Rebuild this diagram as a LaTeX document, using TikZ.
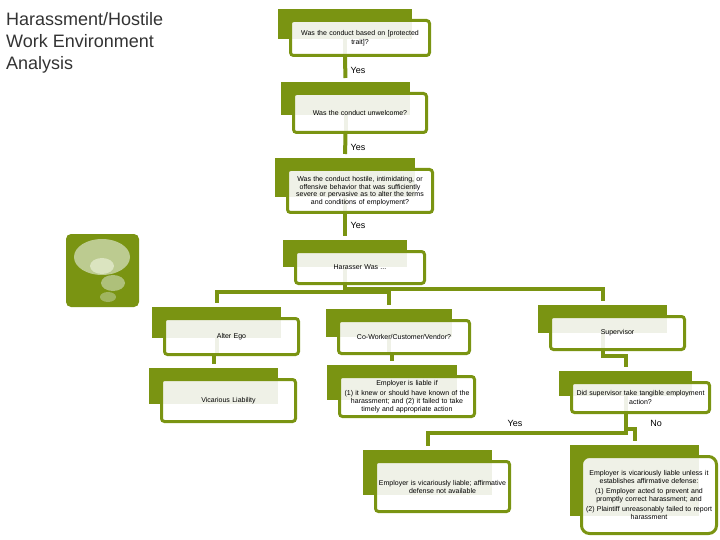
\documentclass[tikz,border=0pt]{standalone}
\usepackage{fontspec}
\setmainfont{Liberation Sans}
\usetikzlibrary{backgrounds,calc}
\definecolor{olive}{HTML}{7A9412}
\definecolor{palegr}{HTML}{EFF1E7}
\definecolor{bubblea}{HTML}{BCCB90}
\definecolor{bubbleb}{HTML}{DBE4C0}
\definecolor{bubblec}{HTML}{AEC07A}
\definecolor{bubbled}{HTML}{A0B560}
\tikzset{
  back/.style={fill=olive,draw=none,inner sep=0pt,outer sep=0pt},
  flow/.style={draw=olive,line width=3pt,inner sep=0pt,outer sep=0pt,align=center,font=\fontsize{7}{8}\selectfont},
  link/.style={draw=olive,line width=4pt,shorten >=4pt},
  stubline/.style={draw=palegr,line width=4pt},
  lab/.style={font=\fontsize{9}{11}\selectfont,inner sep=0pt},
  title/.style={font=\fontsize{18}{22}\selectfont,align=left,anchor=north west,inner sep=0pt,text=black!80}
}
\def\boxrad{3}
% name, border box x1 y1 x2 y2, back box x1 y1 x2 y2; followed by {text};
\newcommand\flowbox[9]{%
  \begin{pgfonlayer}{background}
    \pgfmathsetmacro\bw{#8-#6}\pgfmathsetmacro\bh{#9-#7}
    \node[back,minimum width=\bw pt,minimum height=\bh pt,anchor=north west] (#1b) at (#6,#7) {};
    \fill[white,rounded corners=\boxrad pt] (#2+1.5,#3+1.5) rectangle (#4-1.5,#5-1.5);
    \fill[palegr] (#2+3,#3+3) rectangle (#8,#9);
  \end{pgfonlayer}
  \pgfmathsetmacro\fw{#4-#2-3}\pgfmathsetmacro\fh{#5-#3-3}
  \pgfmathsetmacro\fx{(#2+#4)/2}\pgfmathsetmacro\fy{(#3+#5)/2}
  \pgfmathsetmacro\ft{#4-#2-6}
  \node[flow,rounded corners=\boxrad pt,minimum width=\fw pt,minimum height=\fh pt,text width=\ft pt] (#1) at (\fx,\fy)
}
\newcommand\stubof[1]{%
  \begin{pgfonlayer}{background}
    \draw[stubline] (#1b.south) -- (#1.south -| #1b.south);
  \end{pgfonlayer}
}
\begin{document}
\begin{tikzpicture}[x=1pt,y=-1pt]
\useasboundingbox (0,0) rectangle (720,540);
\node[title] (heading) at (6,12) {Harassment/Hostile\\Work Environment\\Analysis};

% icon
\fill[olive,rounded corners=5pt] (66,234) rectangle (139,307);
\fill[bubblea] (102,257) ellipse [x radius=28,y radius=18];
\fill[bubbleb] (102,266) ellipse [x radius=12,y radius=8];
\fill[bubblec] (113,283) ellipse [x radius=12,y radius=8];
\fill[bubbled] (108,297) ellipse [x radius=8,y radius=5];

\flowbox{q1}{289}{19}{431}{57}{278}{9}{412}{39}{Was the conduct based on [protected\\[1pt]trait]?};
\flowbox{q2}{292}{92}{428}{134}{281}{82}{410}{115}{Was the conduct unwelcome?};
\flowbox{q3}{286}{168}{434}{214}{275}{158}{415}{197}{Was the conduct hostile, intimidating, or\\[-0.5pt]offensive behavior that was sufficiently\\[-0.5pt]severe or pervasive as to alter the terms\\[-0.5pt]and conditions of employment?};
\flowbox{q4}{294}{250}{426}{285}{283}{240}{407}{267}{Harasser Was ...};
\flowbox{alter}{163}{317}{300}{356}{152}{307}{281}{338}{Alter Ego};
\flowbox{vic}{160}{378}{297}{423}{149}{368}{278}{404}{Vicarious Liability};
\flowbox{cow}{337}{319}{471}{355}{326}{309}{452}{337}{Co-Worker/Customer/Vendor?};
\flowbox{emp}{338}{375}{476}{418}{327}{365}{457}{400}{Employer is liable if\\[2pt](1) it knew or should have known of the\\harassment; and (2) it failed to take\\timely and appropriate action};
\flowbox{sup}{549}{315}{686}{351}{538}{305}{667}{333}{Supervisor};
\flowbox{did}{570}{381}{711}{414}{559}{371}{692}{396}{Did supervisor take tangible employment\\[0.5pt]action?};
\flowbox{lia}{374}{460}{511}{513}{363}{450}{492}{495}{Employer is vicariously liable; affirmative\\defense not available};
\def\boxrad{8}
\flowbox{unl}{580}{455}{718}{535}{570}{445}{699}{516}{Employer is vicariously liable unless it\\establishes affirmative defense:\\[2pt](1) Employer acted to prevent and\\promptly correct harassment; and\\[2pt](2) Plaintiff unreasonably failed to report\\harassment};

\stubof{q1}\stubof{q2}\stubof{q3}\stubof{q4}\stubof{alter}\stubof{cow}\stubof{sup}\stubof{did}

\draw[link] (q1.south -| q1b.south) -- (q2b.north);
\draw[link] (q2.south -| q2b.south) -- (q3b.north);
\draw[link] (q3.south -| q3b.south) -- (q4b.north);
\draw[link] (q4.south -| q4b.south) -- ++(0,8) -| (alterb.north);
\draw[link] (q4.south -| q4b.south) -- ++(0,8) -| (cowb.north);
\draw[link] (q4.south -| q4b.south) -- ++(0,5) -| (supb.north);
\draw[link] (alter.south -| vicb.north) -- (vicb.north);
\draw[link] (cow.south -| empb.north) -- (empb.north);
\draw[link] (sup.south -| supb.south) -- ++(0,6) -| (didb.north);
\draw[link] (did.south -| didb.south) -- ++(0,20) -| (liab.north);
\draw[link] (did.south -| didb.south) -- ++(0,16) -| (unlb.north);

\node[lab] (y1) at (358,70) {Yes};
\node[lab] (y2) at (358,147) {Yes};
\node[lab] (y3) at (358,225) {Yes};
\node[lab] (y4) at (515,423) {Yes};
\node[lab] (n1) at (656,423) {No};
\end{tikzpicture}
\end{document}
